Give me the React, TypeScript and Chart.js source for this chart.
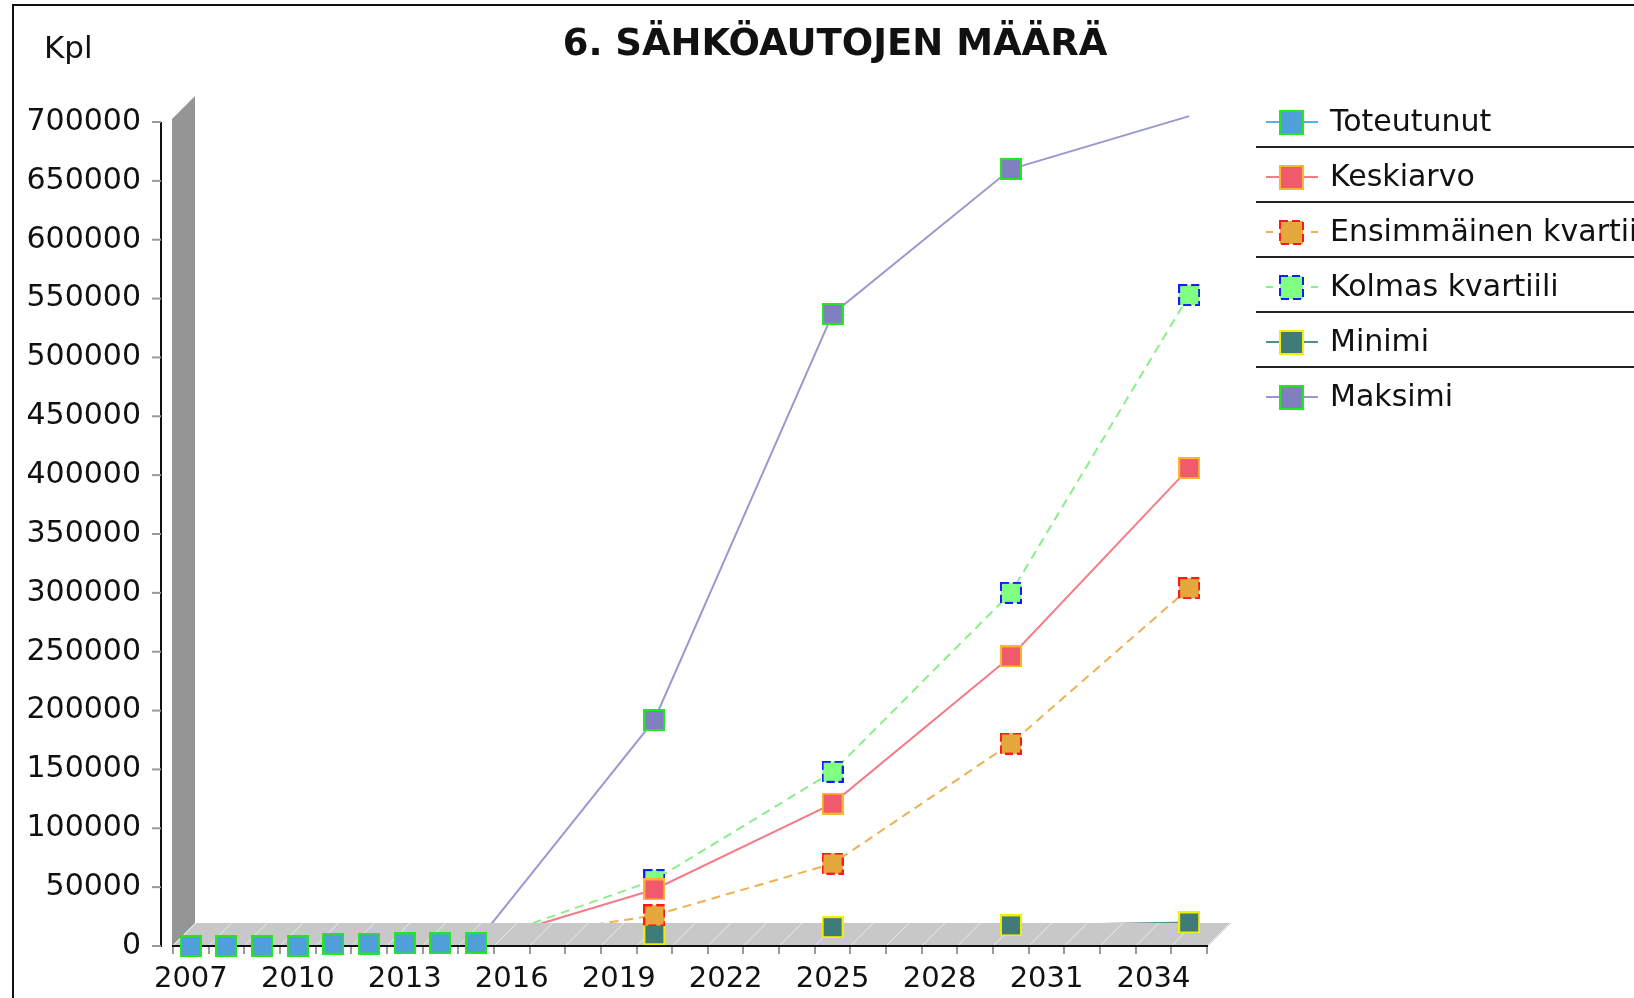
import React, { useEffect, useRef } from 'react';
import { Chart, registerables } from 'chart.js';

Chart.register(...registerables);

// ---------- DATA ----------
const years = [
  '2007', '2008', '2009', '2010', '2011', '2012', '2013', '2014', '2015', '2016',
  '2017', '2018', '2019', '2020', '2021', '2022', '2023', '2024', '2025', '2026',
  '2027', '2028', '2029', '2030', '2031', '2032', '2033', '2034', '2035',
];

const toteutunut = [0, 0, 0, 0, 2000, 2100, 2200, 2300, 2500, null, null, null, null, null, null, null, null, null, null, null, null, null, null, null, null, null, null, null, null];
const keskiarvo = [null, null, null, null, null, null, null, null, 2500, null, null, null, null, 48000, null, null, null, null, 121000, null, null, null, null, 246000, null, null, null, null, 406000];
const ensimmainenKvartiili = [null, null, null, null, null, null, null, null, 2500, null, null, null, null, 26000, null, null, null, null, 70000, null, null, null, null, 172000, null, null, null, null, 304000];
const kolmasKvartiili = [null, null, null, null, null, null, null, null, 2500, null, null, null, null, 56000, null, null, null, null, 148000, null, null, null, null, 300000, null, null, null, null, 553000];
const minimi = [null, null, null, null, null, null, null, null, 2500, null, null, null, null, 10000, null, null, null, null, 16000, null, null, null, null, 17500, null, null, null, null, 20000];
const maksimi = [null, null, null, null, null, null, null, null, 2500, null, null, null, null, 192000, null, null, null, null, 537000, null, null, null, null, 660000, null, null, null, null, 705000];

const seriesLabels = ['Toteutunut', 'Keskiarvo', 'Ensimmäinen kvartiili', 'Kolmas kvartiili', 'Minimi', 'Maksimi'];
const yTicks = { min: 0, max: 700000, step: 50000 };
const TITLE = '6. SÄHKÖAUTOJEN MÄÄRÄ';
const Y_LABEL = 'Kpl';

// ---------- STYLE ----------
const FONT = "'DejaVu Sans', sans-serif";
const styles = [
  { line: '#5aaee0', fill: '#4fa0d8', edge: '#22e822', dash: null as number[] | null, edgeDash: null as number[] | null },
  { line: '#f47c86', fill: '#f05a6c', edge: '#ffb42e', dash: null, edgeDash: null },
  { line: '#eeb050', fill: '#e4a83c', edge: '#ff1a1a', dash: [9, 6], edgeDash: [8, 4] },
  { line: '#88f088', fill: '#80ff80', edge: '#1a1aff', dash: [9, 6], edgeDash: [8, 4] },
  { line: '#4f8f8d', fill: '#3e7b79', edge: '#f0f000', dash: null, edgeDash: null },
  { line: '#9999d0', fill: '#8080c0', edge: '#22e822', dash: null, edgeDash: null },
];
const DEPTH = 23;

function makeMarker(size: number, fill: string, edge: string, dash: number[] | null) {
  const c = document.createElement('canvas');
  c.width = size;
  c.height = size;
  const g = c.getContext('2d')!;
  g.fillStyle = fill;
  g.fillRect(1, 1, size - 2, size - 2);
  g.strokeStyle = edge;
  g.lineWidth = 2;
  if (dash) g.setLineDash(dash);
  g.strokeRect(1, 1, size - 2, size - 2);
  return c;
}

export default function App() {
  const ref = useRef<HTMLCanvasElement | null>(null);

  useEffect(() => {
    if (!ref.current) return;
    const allSeries = [toteutunut, keskiarvo, ensimmainenKvartiili, kolmasKvartiili, minimi, maksimi];
    const chartMarkers = styles.map((s) => makeMarker(22, s.fill, s.edge, s.edgeDash));
    const legendMarkers = styles.map((s) => makeMarker(25, s.fill, s.edge, s.edgeDash));
    const anchorIndex = toteutunut.reduce((acc: number, v, i) => (v !== null ? i : acc), 0);

    const datasets = allSeries.map((data, i) => ({
      label: seriesLabels[i],
      data,
      borderColor: styles[i].line,
      backgroundColor: styles[i].fill,
      borderWidth: 2,
      borderDash: styles[i].dash || [],
      pointStyle: chartMarkers[i],
      pointRadius: (c: any) => {
        const v = c.raw;
        if (v === null || v === undefined) return 0;
        if (v > yTicks.max) return 0;
        if (i > 0 && c.dataIndex === anchorIndex) return 0;
        return 10;
      },
      spanGaps: true,
      tension: 0,
      clip: false as any,
    }));

    const drawFloor = (chart: any) => {
      const { ctx, chartArea: a } = chart;
      const xs = chart.scales.x;
      ctx.save();
      ctx.fillStyle = '#c8c8c8';
      ctx.beginPath();
      ctx.moveTo(a.left - 1, a.bottom);
      ctx.lineTo(a.right + 1, a.bottom);
      ctx.lineTo(a.right + 1 + DEPTH, a.bottom - DEPTH);
      ctx.lineTo(a.left - 1 + DEPTH, a.bottom - DEPTH);
      ctx.closePath();
      ctx.fill();
      const x0 = xs.getPixelForValue(0);
      const w = xs.getPixelForValue(1) - x0;
      ctx.strokeStyle = '#ececec';
      ctx.lineWidth = 1;
      for (let k = 0; k <= years.length; k++) {
        const b = x0 - w / 2 + k * w;
        ctx.beginPath();
        ctx.moveTo(b, a.bottom);
        ctx.lineTo(b + DEPTH, a.bottom - DEPTH);
        ctx.stroke();
      }
      ctx.restore();
    };

    const plugin = {
      id: 'jfree3d',
      beforeDatasetsDraw(chart: any) {
        const { ctx, chartArea: a } = chart;
        ctx.save();
        ctx.fillStyle = '#959595';
        ctx.beginPath();
        ctx.moveTo(a.left - 1, a.bottom);
        ctx.lineTo(a.left - 1, a.top - 3);
        ctx.lineTo(a.left - 1 + DEPTH, a.top - 3 - DEPTH);
        ctx.lineTo(a.left - 1 + DEPTH, a.bottom - DEPTH);
        ctx.closePath();
        ctx.fill();
        ctx.restore();
        drawFloor(chart);
      },
      afterDatasetsDraw(chart: any) {
        const { ctx, chartArea: a } = chart;
        drawFloor(chart);
        ctx.save();
        // x axis line
        ctx.strokeStyle = '#111';
        ctx.lineWidth = 2;
        ctx.beginPath();
        ctx.moveTo(a.left - 1, a.bottom);
        ctx.lineTo(a.right + 1, a.bottom);
        ctx.stroke();
        // y axis line + ticks
        const ys = chart.scales.y;
        const ax = a.left - 12;
        ctx.beginPath();
        ctx.moveTo(ax, ys.getPixelForValue(yTicks.max));
        ctx.lineTo(ax, a.bottom + 1);
        ctx.stroke();
        ctx.strokeStyle = '#999';
        for (let v = yTicks.min; v <= yTicks.max; v += yTicks.step) {
          const y = ys.getPixelForValue(v);
          ctx.beginPath();
          ctx.moveTo(ax - 9, y);
          ctx.lineTo(ax, y);
          ctx.stroke();
        }
        ctx.restore();
        // markers on top of floor
        for (let i = chart.data.datasets.length - 1; i >= 0; i--) {
          const meta = chart.getDatasetMeta(i);
          if (!meta.visible) continue;
          meta.data.forEach((el: any) => el.draw(ctx, chart.chartArea));
        }
      },
      afterDraw(chart: any) {
        const { ctx } = chart;
        ctx.save();
        // frame
        ctx.strokeStyle = '#111';
        ctx.lineWidth = 2;
        ctx.beginPath();
        ctx.moveTo(13, 998);
        ctx.lineTo(13, 5);
        ctx.lineTo(1634, 5);
        ctx.stroke();
        // title
        ctx.fillStyle = '#111';
        ctx.textBaseline = 'middle';
        ctx.textAlign = 'center';
        ctx.font = `bold 37px ${FONT}`;
        ctx.fillText(TITLE, 835, 45);
        // y unit label
        ctx.textAlign = 'left';
        ctx.font = `31px ${FONT}`;
        ctx.fillText(Y_LABEL, 44, 50);
        // legend
        const LX = 1291;
        const LY0 = 122;
        const DY = 55;
        chart.data.datasets.forEach((ds: any, i: number) => {
          const cy = LY0 + i * DY;
          ctx.strokeStyle = styles[i].line;
          ctx.lineWidth = 2;
          ctx.setLineDash(styles[i].dash ? [7, 8] : []);
          ctx.beginPath();
          ctx.moveTo(LX - 25, cy);
          ctx.lineTo(LX + 27, cy);
          ctx.stroke();
          ctx.setLineDash([]);
          ctx.drawImage(legendMarkers[i], Math.round(LX - 12.5), Math.round(cy - 12.5));
          ctx.fillStyle = '#111';
          ctx.font = `30px ${FONT}`;
          ctx.textAlign = 'left';
          ctx.textBaseline = 'middle';
          ctx.fillText(ds.label, 1330, cy + 1);
          if (i < chart.data.datasets.length - 1) {
            ctx.strokeStyle = '#222';
            ctx.lineWidth = 2;
            ctx.beginPath();
            ctx.moveTo(1256, cy + 25);
            ctx.lineTo(1634, cy + 25);
            ctx.stroke();
          }
        });
        ctx.restore();
      },
    };

    const chart = new Chart(ref.current, {
      type: 'line',
      data: { labels: years, datasets: datasets as any },
      options: {
        responsive: false,
        animation: false,
        events: [],
        layout: { padding: { left: 0, top: 122, right: 427, bottom: 0 } },
        plugins: {
          legend: { display: false },
          title: { display: false },
          tooltip: { enabled: false },
        },
        scales: {
          x: {
            type: 'category',
            offset: true,
            grid: { offset: true, drawOnChartArea: false, drawTicks: true, tickLength: 8, color: '#9a9a9a', lineWidth: 2 },
            border: { display: false },
            ticks: {
              autoSkip: false,
              maxRotation: 0,
              minRotation: 0,
              padding: 8,
              color: '#111',
              font: { family: FONT, size: 29 },
              callback: (_v: any, i: number) => (i % 3 === 0 ? years[i] : ''),
            },
            afterFit: (s: any) => { s.height = 52; },
          },
          y: {
            min: yTicks.min,
            max: yTicks.max,
            grid: { display: false },
            border: { display: false },
            ticks: {
              stepSize: yTicks.step,
              padding: 24,
              color: '#111',
              font: { family: FONT, size: 30 },
              callback: (v: any) => String(v),
            },
            afterFit: (s: any) => { s.width = 173; },
          },
        },
      },
      plugins: [plugin],
    });
    return () => chart.destroy();
  }, []);

  return (
    <div style={{ position: 'fixed', left: 0, top: 0, width: 1634, height: 998, background: '#fff', overflow: 'hidden' }}>
      <canvas ref={ref} width={1634} height={998} style={{ display: 'block' }} />
    </div>
  );
}
